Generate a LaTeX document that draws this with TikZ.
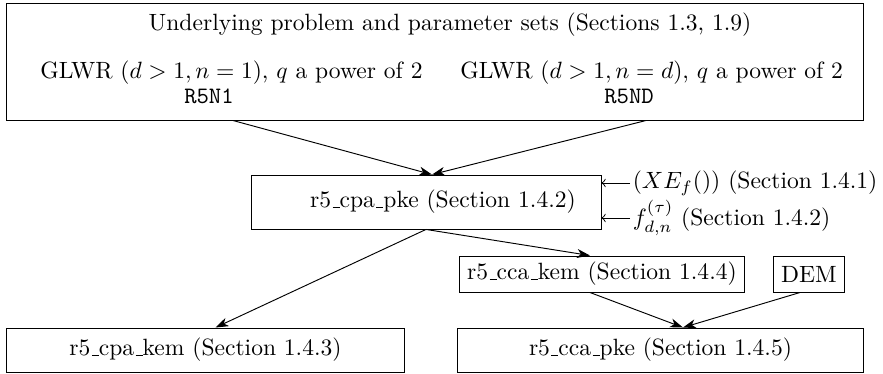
\documentclass[tikz,border=0pt]{standalone}
\usetikzlibrary{calc,arrows.meta}
\newcommand\uscore{\leavevmode\kern.06em\vbox{\hrule width.3em}}
\begin{document}
\begin{tikzpicture}[x=0.4246pt, y=-0.4246pt, >={Stealth[length=5.5pt,width=3.8pt,inset=1.6pt]},
  small/.style={draw, inner xsep=3.33pt, inner ysep=2pt, minimum height=15.3pt},
  txt/.style={inner sep=0pt, anchor=base}]
  \useasboundingbox (0,0) rectangle (883,373);
  % parameter sets
  \node[draw, minimum width=363.5pt, minimum height=49.7pt] (sets) at (435,61.5) {};
  \node[txt] (title) at (450,30) {Underlying problem and parameter sets (Sections 1.3, 1.9)};
  \node[txt, anchor=base west] (glwra) at (40,78) {GLWR ($d>1, n=1$), $q$ a power of 2};
  \node[txt, anchor=base west] (glwrb) at (460,78) {GLWR ($d>1, n=d$), $q$ a power of 2};
  \node[txt] (rna) at (209,103) {\texttt{R5N1}};
  \node[txt] (rnd) at (629,103) {\texttt{R5ND}};
  % schemes
  \node[draw, minimum width=148.6pt, minimum height=22.9pt] (cpapke) at (426,202) {\hspace*{14.4pt}r5\uscore cpa\uscore pke (Section 1.4.2)};
  \node[small] (ccakem) at (602,274) {r5\uscore cca\uscore kem (Section 1.4.4)};
  \node[small] (dem) at (809,274) {DEM};
  \node[draw, minimum width=168.6pt, minimum height=18.7pt] (cpakem) at (205.5,350) {r5\uscore cpa\uscore kem (Section 1.4.3)};
  \node[draw, minimum width=172pt, minimum height=18.7pt] (ccapke) at (660.5,350) {r5\uscore cca\uscore pke (Section 1.4.5)};
  % inputs on the right
  \node[anchor=west, inner sep=1pt] (xef) at (630,183) {$(XE_f())$ (Section 1.4.1)};
  \node[anchor=west, inner sep=1pt] (fdn) at (630,218) {$f_{d,n}^{(\tau)}$ (Section 1.4.2)};
  % arrows
  \draw[->] ($(sets.south)+(-202,0)$) -- ($(cpapke.north)+(6,0)$);
  \draw[->] ($(sets.south)+(211,0)$) -- ($(cpapke.north)+(6,0)$);
  \draw[->] (cpapke.south) -- ($(cpakem.north)+(10,0)$);
  \draw[->] (cpapke.south) -- ($(ccakem.north)+(-12,0)$);
  \draw[->] ($(ccakem.south)+(-12,0)$) -- ($(ccapke.north)+(22.5,0)$);
  \draw[->] ($(dem.south)+(-9,0)$) -- ($(ccapke.north)+(22.5,0)$);
  \draw[-to] (xef.west) -- (xef.west -| cpapke.east);
  \draw[-to] (fdn.west) -- (fdn.west -| cpapke.east);
\end{tikzpicture}
\end{document}
